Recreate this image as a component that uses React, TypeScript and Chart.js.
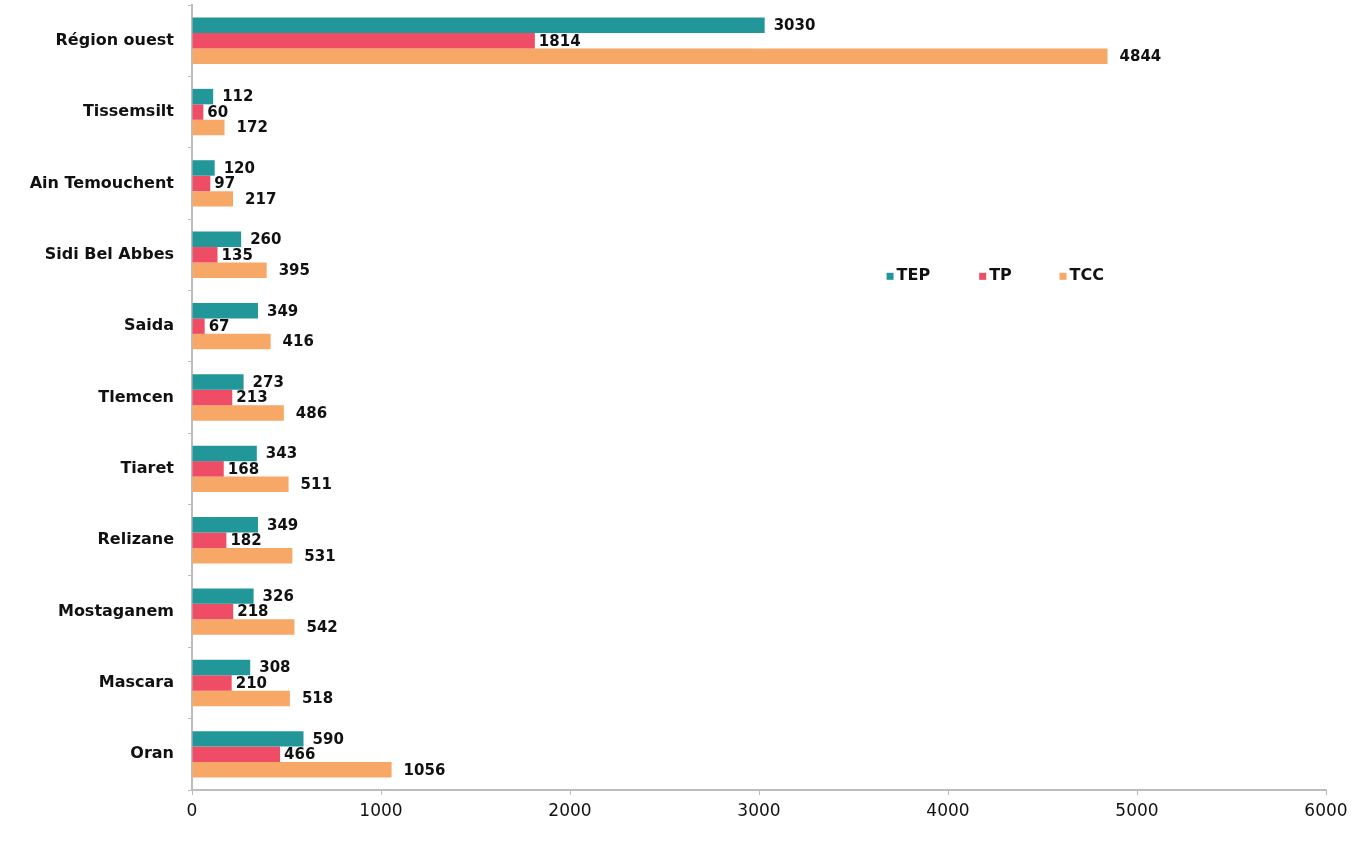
import React, { useEffect, useRef } from "react";
import { Chart, registerables } from "chart.js";

Chart.register(...registerables);

const categories = [
  "Région ouest",
  "Tissemsilt",
  "Ain Temouchent",
  "Sidi Bel Abbes",
  "Saida",
  "Tlemcen",
  "Tiaret",
  "Relizane",
  "Mostaganem",
  "Mascara",
  "Oran",
];
const seriesNames = ["TEP", "TP", "TCC"];
const tepValues = [3030, 112, 120, 260, 349, 273, 343, 349, 326, 308, 590];
const tpValues = [1814, 60, 97, 135, 67, 213, 168, 182, 218, 210, 466];
const tccValues = [4844, 172, 217, 395, 416, 486, 511, 531, 542, 518, 1056];
const xTicks = [0, 1000, 2000, 3000, 4000, 5000, 6000];

const colors = ["#21979A", "#EF4D66", "#F8A866"];
const labelOffsets = [9, 4, 12];
const FONT = "'DejaVu Sans', sans-serif";

const labelPlugin = {
  id: "barLabels",
  afterDatasetsDraw(chart: any) {
    const ctx = chart.ctx;
    ctx.save();
    ctx.font = `bold 15px ${FONT}`;
    ctx.fillStyle = "#111";
    ctx.textBaseline = "middle";
    ctx.textAlign = "left";
    chart.data.datasets.forEach((ds: any, di: number) => {
      const meta = chart.getDatasetMeta(di);
      meta.data.forEach((el: any, i: number) => {
        ctx.fillText(String(ds.data[i]), el.x + labelOffsets[di], el.y + 1);
      });
    });
    // legend inside plot
    const area = chart.chartArea;
    const xs = chart.scales.x;
    const ly = area.top + (area.bottom - area.top) * 0.345;
    const starts = [3675, 4165, 4590].map((v) => xs.getPixelForValue(v));
    ctx.font = `bold 16px ${FONT}`;
    seriesNames.forEach((n, k) => {
      ctx.fillStyle = colors[k];
      ctx.fillRect(starts[k], ly - 3, 7, 7);
      ctx.fillStyle = "#111";
      ctx.fillText(n, starts[k] + 10, ly);
    });
    ctx.restore();
  },
};

export default function App() {
  const ref = useRef<HTMLCanvasElement | null>(null);
  useEffect(() => {
    document.body.style.margin = "0";
    const canvas = ref.current!;
    const chart = new Chart(canvas, {
      type: "bar",
      data: {
        labels: categories,
        datasets: [
          { label: seriesNames[0], data: tepValues, backgroundColor: colors[0] },
          { label: seriesNames[1], data: tpValues, backgroundColor: colors[1] },
          { label: seriesNames[2], data: tccValues, backgroundColor: colors[2] },
        ],
      },
      options: {
        indexAxis: "y",
        animation: false,
        responsive: false,
        maintainAspectRatio: false,
        layout: { padding: { top: 5, right: 29, left: 0, bottom: 0 } },
        datasets: { bar: { categoryPercentage: 0.65, barPercentage: 1 } },
        plugins: { legend: { display: false }, tooltip: { enabled: false } },
        scales: {
          x: {
            min: 0,
            max: 6000,
            afterBuildTicks: (s: any) => {
              s.ticks = xTicks.map((v) => ({ value: v }));
            },
            afterFit: (s: any) => {
              s.height = 51;
            },
            grid: {
              display: true,
              drawOnChartArea: false,
              drawTicks: true,
              tickLength: 5,
              color: "#BDBDBD",
            },
            border: { display: true, color: "#BDBDBD", width: 2 },
            ticks: {
              color: "#111",
              font: { family: FONT, size: 17 },
              padding: 6,
              maxRotation: 0,
              autoSkip: false,
              callback: (v: any) => String(v),
            },
          },
          y: {
            afterFit: (s: any) => {
              s.width = 192;
              s.paddingTop = 0;
              s.paddingBottom = 0;
            },
            grid: {
              display: true,
              drawOnChartArea: false,
              drawTicks: true,
              tickLength: 4,
              offset: true,
              color: "#BDBDBD",
            },
            border: { display: true, color: "#BDBDBD", width: 2 },
            ticks: {
              color: "#111",
              font: { family: FONT, size: 16, weight: "bold" },
              padding: 14,
              autoSkip: false,
            },
          },
        },
      },
      plugins: [labelPlugin],
    } as any);
    return () => chart.destroy();
  }, []);
  return <canvas ref={ref} width={1355} height={841} style={{ display: "block" }} />;
}
